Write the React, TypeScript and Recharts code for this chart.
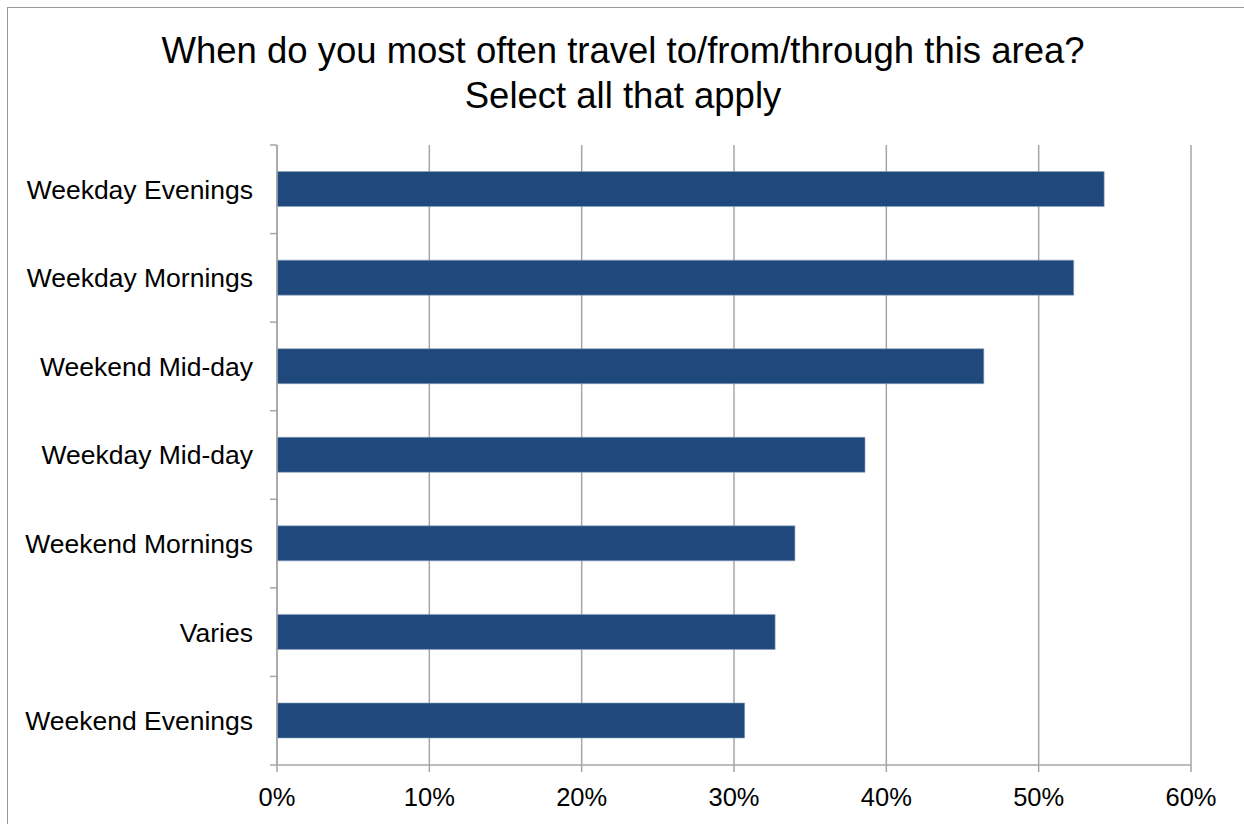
import React from 'react';
import { BarChart, Bar, XAxis, YAxis, CartesianGrid } from 'recharts';

const CATEGORIES = [
  'Weekday Evenings',
  'Weekday Mornings',
  'Weekend Mid-day',
  'Weekday Mid-day',
  'Weekend Mornings',
  'Varies',
  'Weekend Evenings',
];
const SHARE = [54.3, 52.3, 46.4, 38.6, 34.0, 32.7, 30.7];
const X_TICKS = [0, 10, 20, 30, 40, 50, 60];

const data = CATEGORIES.map((name, i) => ({ name, share: SHARE[i] }));

const FONT = '"Liberation Sans", Arial, sans-serif';
const GRAY = '#a6a6a6';

const CHART_W = 1236;
const CHART_H = 816;
const MARGIN = { top: 137, right: 53, left: 0, bottom: 19 };
const X_AXIS_H = 40;
const LABEL_GAP = 24;
const BAND = (CHART_H - MARGIN.top - MARGIN.bottom - X_AXIS_H) / CATEGORIES.length;

// category label plus the small tick marks Excel puts between categories
function CategoryTick({ x, y, payload, index }: { x: number; y: number; payload: { value: string }; index: number }) {
  const axisX = x + LABEL_GAP;
  const last = index === CATEGORIES.length - 1;
  return (
    <g>
      <line x1={axisX - 7} x2={axisX} y1={y - BAND / 2} y2={y - BAND / 2} stroke={GRAY} strokeWidth={1.5} />
      {last && (
        <line x1={axisX - 7} x2={axisX} y1={y + BAND / 2} y2={y + BAND / 2} stroke={GRAY} strokeWidth={1.5} />
      )}
      <text x={x} y={y} dy="0.355em" textAnchor="end" fill="#000" fontSize={26.5} fontFamily={FONT}>
        {payload.value}
      </text>
    </g>
  );
}

export default function App() {
  return (
    <div
      style={{
        position: 'absolute',
        left: 7,
        top: 7,
        width: 1250,
        height: 830,
        border: '1px solid #999',
        background: '#fff',
        fontFamily: FONT,
      }}
    >
      <div
        style={{
          position: 'absolute',
          left: 0,
          width: 1230,
          top: 20,
          textAlign: 'center',
          fontSize: 36.5,
          lineHeight: '45px',
          color: '#000',
        }}
      >
        When do you most often travel to/from/through this area?
        <br />
        Select all that apply
      </div>
      <BarChart
        width={CHART_W}
        height={CHART_H}
        data={data}
        layout="vertical"
        barCategoryGap="30%"
        margin={MARGIN}
      >
        <CartesianGrid horizontal={false} stroke={GRAY} strokeWidth={1.5} />
        <XAxis
          type="number"
          domain={[0, 60]}
          ticks={X_TICKS}
          tickFormatter={(v) => `${v}%`}
          height={X_AXIS_H}
          tickSize={7}
          tickMargin={16}
          stroke={GRAY}
          strokeWidth={1.5}
          tick={{ fill: '#000', fontSize: 25.5, fontFamily: FONT }}
        />
        <YAxis
          type="category"
          dataKey="name"
          width={269}
          interval={0}
          tickLine={false}
          tickSize={0}
          tickMargin={LABEL_GAP}
          stroke={GRAY}
          strokeWidth={1.5}
          tick={(props: any) => <CategoryTick {...props} />}
        />
        <Bar
          dataKey="share"
          fill="#1f497d"
          stroke="#8ea3bf"
          strokeWidth={0.6}
          isAnimationActive={false}
        />
      </BarChart>
    </div>
  );
}
